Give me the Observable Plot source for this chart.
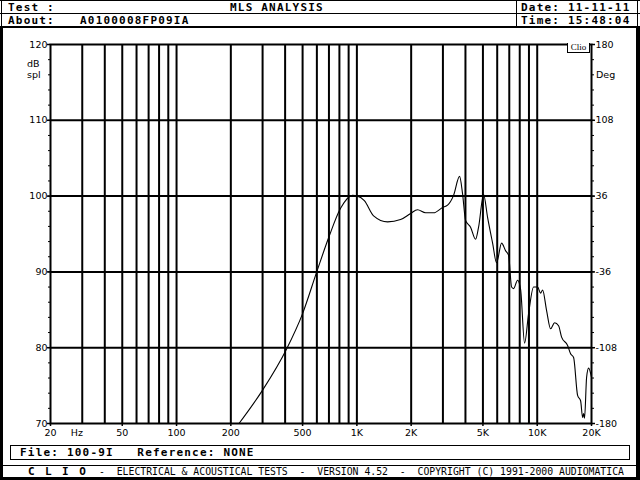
<!DOCTYPE html>
<html><head><meta charset="utf-8">
<script src="https://cdn.jsdelivr.net/npm/d3@7"></script>
<script src="https://cdn.jsdelivr.net/npm/@observablehq/plot@0.6"></script>
<style>
body{margin:0;background:#fff;}
#page{position:relative;width:640px;height:480px;overflow:hidden;background:#fff;font-family:"DejaVu Sans Mono",monospace;color:#000;}
.t{position:absolute;white-space:pre;font-size:11px;font-weight:bold;line-height:13px;letter-spacing:1.2px;}
.s{position:absolute;white-space:pre;font-family:"DejaVu Sans",sans-serif;font-size:9.5px;line-height:11px;}
.l{position:absolute;background:#000;z-index:5;}
#chart{position:absolute;left:0;top:28px;}
</style></head>
<body><div id="page">
  <div id="chart"></div>
  <!-- header -->
  <div class="l" style="left:0;top:0;width:640px;height:1px"></div>
  <div class="l" style="left:0;top:13px;width:640px;height:1px"></div>
  <div class="l" style="left:0;top:26px;width:640px;height:2px"></div>
  <div class="l" style="left:516px;top:0;width:1px;height:27px"></div>
  <div class="l" style="left:1px;top:0;width:1px;height:27px"></div>
  <div class="l" style="left:637px;top:0;width:1px;height:27px"></div>
  <div class="t" style="left:8px;top:1px">Test :</div>
  <div class="t" style="left:230px;top:1px">MLS ANALYSIS</div>
  <div class="t" style="left:521px;top:1px">Date: 11-11-11</div>
  <div class="t" style="left:8px;top:14px">About:</div>
  <div class="t" style="left:80px;top:14px">A0100008FP09IA</div>
  <div class="t" style="left:521px;top:14px">Time: 15:48:04</div>
  <!-- frame bars -->
  <div class="l" style="left:0;top:27px;width:3px;height:453px"></div>
  <div class="l" style="left:636px;top:27px;width:4px;height:453px"></div>
  <div class="l" style="left:0;top:477px;width:640px;height:3px"></div>
  <!-- axis side labels -->
  <div class="s" style="left:27px;top:58px">dB</div>
  <div class="s" style="left:27px;top:69px">spl</div>
  <div class="s" style="left:596px;top:69px">Deg</div>
  <div style="position:absolute;left:567px;top:43px;width:21px;height:9px;border:1px solid #000;border-top:none;font-family:'Liberation Serif',serif;font-size:9px;line-height:9px;text-align:center;background:#fff;">Clio</div>
  <!-- footer -->
  <div style="position:absolute;left:10px;top:445px;width:618px;height:13px;border:1px solid #000;"></div>
  <div class="t" style="left:20px;top:446px">File: 100-9I   Reference: NONE</div>
  <div class="l" style="left:3px;top:465px;width:633px;height:1px"></div>
  <div class="t" style="left:28px;top:465px;letter-spacing:1.9px">C L I O</div>
  <div style="position:absolute;left:99px;top:466px;white-space:pre;font-size:9.8px;line-height:12px;">-  ELECTRICAL &amp; ACOUSTICAL TESTS  -  VERSION 4.52  -  COPYRIGHT (C) 1991-2000 AUDIOMATICA</div>
</div>
<script>
// Measured SPL response (Hz, dB spl)
const freqHz = [222, 300, 407, 500, 597, 697, 812, 946, 1009, 1100, 1238, 1480, 1747, 1985, 2170, 2404, 2662, 2988, 3184, 3438, 3710, 3856, 4006, 4270, 4552, 4730, 5043, 5306, 5657, 5952, 6346, 6677, 6938, 7210, 7396, 7783, 8088, 8511, 8958, 9549, 10050, 10442, 10712, 11272, 11865, 12486, 13138, 13652, 14740, 15316, 15914, 16748, 17404, 17856, 18086, 18300, 18790, 19276, 20000];
const splDb = [70.0, 74.4, 79.8, 84.5, 89.9, 94.5, 98.4, 100.1, 100.0, 99.4, 97.4, 96.6, 96.9, 97.7, 98.2, 97.8, 97.8, 98.5, 98.8, 100.1, 102.6, 100.3, 96.8, 95.9, 94.3, 95.9, 100.2, 97.2, 93.8, 91.2, 93.8, 92.8, 92.2, 88.0, 87.8, 88.9, 87.7, 80.6, 84.5, 88.0, 88.0, 87.2, 87.6, 84.9, 82.5, 83.3, 82.9, 81.4, 80.3, 79.2, 78.7, 73.7, 73.0, 70.8, 71.3, 70.7, 76.1, 77.3, 76.1];

// Axis / grid definitions
const gridFreqs = [30, 40, 50, 60, 70, 80, 90, 100, 200, 300, 400, 500, 600, 700, 800, 900, 1000, 2000, 3000, 4000, 5000, 6000, 7000, 8000, 9000, 10000];
const gridDb = [80, 90, 100, 110];
const xTicks = [20, 50, 100, 200, 500, 1000, 2000, 5000, 10000, 20000];
const xLabels = ["20", "50", "100", "200", "500", "1K", "2K", "5K", "10K", "20K"];
const dbTicks = [120, 110, 100, 90, 80, 70];
const dbLabels = ["120", "110", "100", "90", "80", "70"];
const phaseLabels = ["180", "108", "36", "-36", "-108", "-180"];
const minorDb = d3.range(70, 121, 2);
const unitLabel = [{f: 28, text: "Hz"}];

const data = freqHz.map((f, i) => ({f, db: splDb[i]}));
const xTickData = xTicks.map((f, i) => ({f, text: xLabels[i]}));

const chart = Plot.plot({
  width: 640, height: 416,
  marginTop: 16, marginBottom: 21, marginLeft: 50, marginRight: 49,
  style: {background: "transparent", fontFamily: "DejaVu Sans", fontSize: "9.5px", color: "#000", overflow: "visible"},
  x: {type: "log", domain: [20, 20000]},
  y: {domain: [70, 120]},
  marks: [
    Plot.ruleX(gridFreqs, {stroke: "#000", strokeWidth: 2, strokeOpacity: 1}),
    Plot.ruleY(gridDb, {stroke: "#000", strokeWidth: 2, strokeOpacity: 1}),
    Plot.frame({stroke: "#000", strokeWidth: 2}),
    Plot.axisX({ticks: xTicks, tickFormat: () => "", tickSize: 3, label: null, strokeWidth: 1.5}),
    Plot.text(xTickData, {x: "f", text: "text", frameAnchor: "bottom", lineAnchor: "top", dy: 6, fill: "#000"}),
    Plot.axisY({anchor: "left", ticks: dbTicks, tickFormat: d => dbLabels[dbTicks.indexOf(d)], tickSize: 3, tickPadding: 0, label: null, strokeWidth: 1.5}),
    Plot.axisY({anchor: "left", ticks: minorDb, tickFormat: () => "", tickSize: 2, label: null}),
    Plot.axisY({anchor: "right", ticks: dbTicks, tickFormat: d => phaseLabels[dbTicks.indexOf(d)], tickSize: 3, tickPadding: 1, label: null, strokeWidth: 1.5}),
    Plot.axisY({anchor: "right", ticks: minorDb, tickFormat: () => "", tickSize: 2, label: null}),
    Plot.line(data, {x: "f", y: "db", stroke: "#000", strokeWidth: 1.1, curve: "monotone-x"}),
    Plot.text(unitLabel, {x: "f", text: "text", frameAnchor: "bottom", lineAnchor: "top", dy: 6, fill: "#000"})
  ]
});
document.getElementById("chart").appendChild(chart);
</script>
</body></html>
